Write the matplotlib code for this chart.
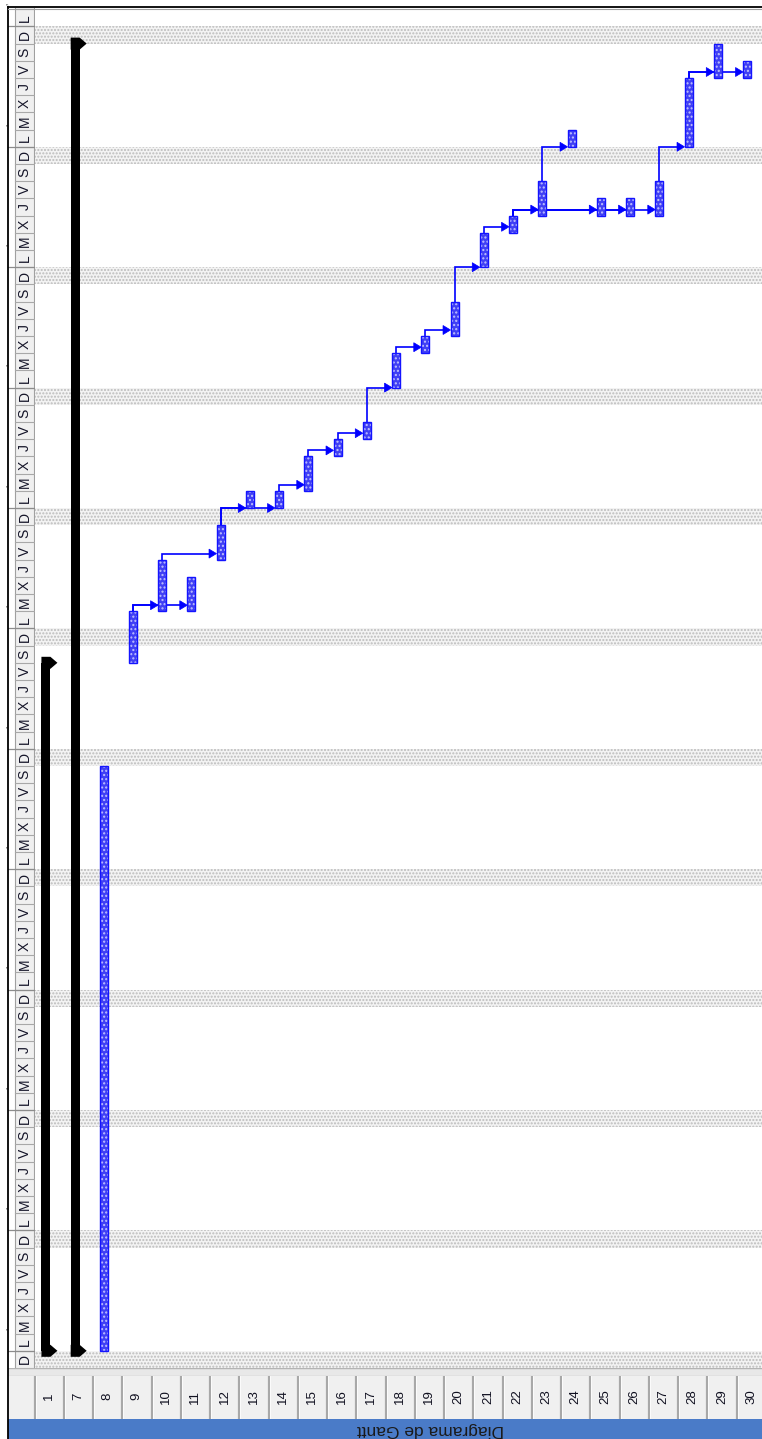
import numpy as np
import matplotlib.pyplot as plt
from matplotlib.patches import Rectangle, Polygon
from matplotlib.lines import Line2D

plt.rcParams['font.family'] = ['Liberation Sans', 'DejaVu Sans']

W, H = 762, 1439
DAY_PX = 17.2          # pixels per day on the time scale
ROW_PX = 29.25         # pixels per task row

# task ids shown in the bottom column
row_labels = ['1', '7', '8', '9', '10', '11', '12', '13', '14', '15', '16', '17', '18',
              '19', '20', '21', '22', '23', '24', '25', '26', '27', '28', '29', '30']

# normal tasks: id, start day, finish day (day 0 = first Sunday of the scale)
task_ids    = [8, 9, 10, 11, 12, 13, 14, 15, 16, 17, 18, 19, 20, 21, 22, 23, 24, 25, 26, 27, 28, 29, 30]
task_start  = [1, 41, 44, 44, 47, 50, 50, 51, 53, 54, 57, 59, 60, 64, 66, 67, 71, 67, 67, 67, 71, 75, 75]
task_finish = [35, 44, 47, 46, 49, 51, 51, 53, 54, 55, 59, 60, 62, 66, 67, 69, 72, 68, 68, 69, 75, 77, 76]

# summary tasks
summary_ids    = [1, 7]
summary_start  = [1, 1]
summary_finish = [41, 77]

# finish-to-start links
link_from = [9, 9, 10, 12, 12, 14, 15, 16, 17, 18, 19, 20, 21, 22, 22, 22, 22, 23, 27, 28, 28]
link_to   = [10, 11, 12, 13, 14, 15, 16, 17, 18, 19, 20, 21, 22, 23, 25, 26, 27, 24, 28, 29, 30]

day_letters = ['D', 'L', 'M', 'X', 'J', 'V', 'S']

chart_top, chart_bottom = 8, 1368
chart_left = 34.5
t_top = (chart_bottom - chart_top) / DAY_PX
n_days = int(np.ceil(t_top))


def px_axes(x0, y0, x1, y1):
    ax = fig.add_axes([x0 / W, 1 - y1 / H, (x1 - x0) / W, (y1 - y0) / H])
    ax.set_axis_off()
    return ax


fig = plt.figure(figsize=(W / 100, H / 100), dpi=100)

# ---------- chart area ----------
ax = px_axes(chart_left, chart_top, W, chart_bottom)
x_max = (W - chart_left) / ROW_PX
ax.set_xlim(0, x_max)
ax.set_ylim(0, t_top)

xs_per_px = 1 / ROW_PX
ts_per_px = 1 / DAY_PX
row_pos = {int(r): i for i, r in enumerate(row_labels)}

# non-working Sundays
for d in range(0, n_days, 7):
    ax.add_patch(Rectangle((0, d), x_max, 1, facecolor='#f3f3f3', edgecolor='#bcbcbc',
                           hatch='.....', lw=0, zorder=0))

bar_w = 8.2 * xs_per_px
bar_off = -4.0 * xs_per_px


def bar_center(rid):
    return row_pos[rid] + 0.5 + bar_off


# summary bars with pointed end caps
sum_w = 9 * xs_per_px
cap_a = 6 * ts_per_px
cap_p = 7 * xs_per_px
for rid, s, f in zip(summary_ids, summary_start, summary_finish):
    c = row_pos[rid] + 0.5 - 3.2 * xs_per_px
    xl, xr = c - sum_w / 2, c + sum_w / 2
    ax.add_patch(Rectangle((xl, s), sum_w, f - s, facecolor='black', lw=0, zorder=3))
    for t in (s, f):
        ax.add_patch(Polygon([(xl, t - cap_a), (xr, t - cap_a), (xr + cap_p, t),
                              (xr, t + cap_a), (xl, t + cap_a)],
                             closed=True, facecolor='black', lw=0, zorder=3))

# links
lag = 6 * ts_per_px
ah_len = 7.5 * xs_per_px
ah_half = 4.5 * ts_per_px
for a, b in zip(link_from, link_to):
    ia, ib = task_ids.index(a), task_ids.index(b)
    ca = bar_center(a)
    tx = bar_center(b) - bar_w / 2
    ty = max(task_finish[ia] + lag, task_start[ib])
    ax.plot([ca, ca, tx - ah_len], [task_finish[ia], ty, ty], color='#0000ff', lw=1.2,
            solid_joinstyle='miter', zorder=4)
    ax.add_patch(Polygon([(tx - ah_len, ty - ah_half), (tx, ty), (tx - ah_len, ty + ah_half)],
                         closed=True, facecolor='#0000ff', edgecolor='#0000ff', lw=0.5, zorder=4))

# task bars
for rid, s, f in zip(task_ids, task_start, task_finish):
    x0 = bar_center(rid) - bar_w / 2
    ax.add_patch(Rectangle((x0, s), bar_w, f - s, facecolor='#4040f4', lw=0, zorder=5))
    ax.add_patch(Rectangle((x0, s), bar_w, f - s, facecolor='none', edgecolor='#c0c0ff',
                           hatch='....', lw=0, zorder=5))
    ax.add_patch(Rectangle((x0, s), bar_w, f - s, facecolor='none', edgecolor='#1414ff',
                           lw=1.0, zorder=6))

# ---------- time scale strip ----------
sx = px_axes(8, chart_top, chart_left, chart_bottom)
sx.set_xlim(0, chart_left - 8)
sx.set_ylim(0, t_top)
sx.add_patch(Rectangle((7, 0), chart_left - 15, t_top, facecolor='#f0f0f0', lw=0))
sx.plot([7, 7], [0, t_top], color='#a0a0a0', lw=0.8)
sx.plot([chart_left - 8.5] * 2, [0, t_top], color='#a0a0a0', lw=0.8)
for d in range(n_days):
    sx.plot([7, chart_left - 8], [d, d], color='#a8a8a8', lw=0.8)
    if d + 0.5 < t_top:
        sx.text(16.8, d + 0.5, day_letters[d % 7], rotation=90, ha='center', va='center',
                fontsize=10, color='#141428')
for d in range(1, n_days, 7):
    sx.plot([0, chart_left - 8], [d, d], color='#8c8c8c', lw=0.9)
    sx.text(3.5, d + 1.3, '\u2019', rotation=90, ha='center', va='center',
            fontsize=7, color='#303030')

# ---------- bottom band, task id cells and title ----------
gx = px_axes(8, chart_bottom, W, 1376)
gx.set_xlim(0, W - 8)
gx.set_ylim(0, 1)
gx.add_patch(Rectangle((0, 0), W - 8, 1, facecolor='#e8e8e8', lw=0))
gx.plot([0, W - 8], [1, 1], color='#b4b4b4', lw=1.0)
gx.plot([0, W - 8], [0.05, 0.05], color='#c8c8c8', lw=1.0)

lx = px_axes(8, 1376, W, 1419)
lx.set_xlim(8, W)
lx.set_ylim(0, 1)
lx.add_patch(Rectangle((8, 0), W - 8, 1, facecolor='#f0f0f0', lw=0))
for i, lab in enumerate(row_labels):
    x0 = chart_left + i * ROW_PX
    lx.plot([x0, x0], [0, 1], color='#a8a8a8', lw=1.6)
    lx.plot([x0 + 1.2, x0 + 1.2], [0, 1], color='white', lw=0.6)
    lx.text(x0 + ROW_PX / 2, 0.52, lab, rotation=90, ha='center', va='center',
            fontsize=9.5, color='#101020')

tx_ax = px_axes(8, 1419, W, H)
tx_ax.set_xlim(8, W)
tx_ax.set_ylim(0, 1)
tx_ax.add_patch(Rectangle((8, 0), W - 8, 1, facecolor='#4a7bc8', lw=0))
tx_ax.text(431, 0.45, 'Diagrama de Gantt', rotation=180, ha='center', va='center',
           fontsize=12.5, color='#1a1a1a')

# window borders
fig.add_artist(Line2D([7.5 / W, 7.5 / W], [0, 1 - 7 / H], transform=fig.transFigure,
                      color='black', lw=1.3))
fig.add_artist(Line2D([7.5 / W, 1], [1 - 7 / H, 1 - 7 / H], transform=fig.transFigure,
                      color='black', lw=1.3))
fig.add_artist(Line2D([8 / W, 1], [1 - 9 / H, 1 - 9 / H], transform=fig.transFigure,
                      color='#a0a0a0', lw=0.8))

fig.savefig('out.png', dpi=100)
